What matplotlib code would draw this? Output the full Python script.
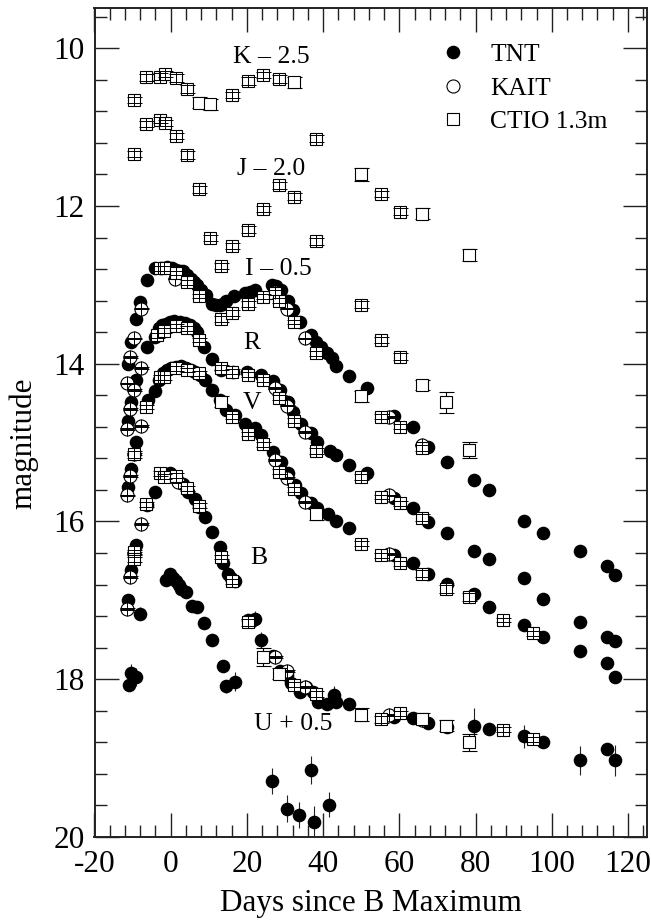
import matplotlib
matplotlib.use("Agg")
import matplotlib.pyplot as plt
from matplotlib.lines import Line2D
from matplotlib.ticker import MultipleLocator
import numpy as np

plt.rcParams['font.family'] = ['Liberation Serif', 'DejaVu Serif']
plt.rcParams['axes.unicode_minus'] = False

# ---------- TNT ----------
tnt_i_day = [-11.2,-10.3,-9.2,-8.1,-6.1,-4.1,-2.5,-1.0,0.3,1.5,2.4,3.2,4.3,5.4,6.1,6.9,8.0,9.2,10.9,11.9,12.9,13.8,14.6,16.5,19.4,20.7,22.0,26.6,27.6,28.9,30.8,32.1,33.9,36.9,38.2,39.5,40.9,42.2,43.5,46.7,51.5,58.5,63.6,67.5,72.4,79.6,83.5,92.7,97.7,107.5,114.5,116.5]
tnt_i_mag = [14.0,13.72,13.43,13.22,12.94,12.79,12.78,12.77,12.78,12.81,12.82,12.83,12.87,12.92,12.96,13.0,13.06,13.13,13.24,13.26,13.26,13.24,13.21,13.14,13.1,13.09,13.07,13.0,13.02,13.07,13.2,13.32,13.47,13.64,13.72,13.79,13.87,13.93,14.03,14.15,14.31,14.66,14.80,15.06,15.25,15.48,15.6,16.0,16.15,16.38,16.56,16.68]
tnt_r_day = [-11.2,-10.3,-9.0,-6.1,-4.1,-3.0,-2.4,-1.3,-0.3,0.9,2.4,3.7,5.0,6.0,6.9,8.7,10.9,13.3,16.4,19.9,23.8,26.9,28.6,30.8,32.1,34.3,36.9,38.4,41.7,43.5,46.7,51.5,58.5,63.6,67.5,72.4,79.6,83.5,92.7,97.7,107.5,114.5,116.5]
tnt_r_mag = [14.72,14.48,14.2,13.79,13.66,13.55,13.51,13.49,13.47,13.46,13.47,13.48,13.51,13.55,13.6,13.79,13.94,14.08,14.1,14.1,14.14,14.22,14.33,14.48,14.61,14.76,14.88,14.99,15.1,15.16,15.28,15.38,15.7,15.83,16.01,16.14,16.37,16.47,16.72,16.98,17.28,17.47,17.52]
tnt_v_day = [-11.2,-10.3,-9.0,-6.0,-4.1,-3.0,-2.0,-1.0,0.2,1.5,2.8,4.0,5.4,6.5,7.6,8.9,10.9,12.9,14.6,16.8,19.6,22.2,23.8,26.9,29.0,30.8,32.5,34.3,36.9,38.4,41.3,43.5,46.7,58.5,63.6,67.5,72.4,79.6,83.5,92.7,97.7,107.5,114.5,116.5]
tnt_v_mag = [15.56,15.33,14.99,14.46,14.35,14.2,14.12,14.08,14.06,14.04,14.03,14.05,14.08,14.1,14.14,14.21,14.33,14.46,14.59,14.65,14.76,14.82,14.9,15.12,15.24,15.39,15.54,15.64,15.77,15.83,15.9,16.0,16.08,16.43,16.53,16.67,16.79,16.92,17.09,17.31,17.47,17.64,17.79,17.97]
tnt_b_day = [-11.2,-10.3,-9.2,-6.1,-4.0,-2.0,-0.3,1.5,3.2,4.5,6.3,7.4,8.9,10.9,12.9,13.7,15.0,15.9,16.8,20.3,22.0,23.8,26.9,28.6,30.4,31.7,33.9,35.6,37.4,38.7,40.9,42.8,43.5,46.7,58.5,63.6,67.5,72.4,79.6,83.5,92.7,97.7,107.5,114.5,116.5]
tnt_b_mag = [17.0,16.62,16.3,15.79,15.62,15.41,15.39,15.43,15.52,15.62,15.71,15.81,15.94,16.13,16.32,16.53,16.66,16.72,16.76,17.25,17.24,17.5,17.71,17.9,17.95,18.05,18.16,18.1,18.16,18.29,18.31,18.2,18.29,18.31,18.48,18.49,18.55,18.6,18.59,18.63,18.72,18.8,19.03,18.88,19.03]
tnt_b_err = [0.03,0.03,0.03,0.03,0.03,0.02,0.02,0.02,0.02,0.02,0.02,0.02,0.02,0.02,0.02,0.02,0.02,0.02,0.02,0.08,0.1,0.1,0.05,0.05,0.03,0.03,0.03,0.05,0.03,0.04,0.04,0.11,0.04,0.03,0.03,0.03,0.05,0.065,0.23,0.08,0.146,0.03,0.18,0.05,0.2]
tnt_u_day = [-11.0,-10.3,-9.0,-8.1,-1.3,-0.3,0.6,1.5,2.2,2.8,3.9,5.7,6.9,8.7,10.9,13.7,14.4,16.8,26.7,30.6,33.7,36.7,37.6,41.6]
tnt_u_mag = [18.07,17.92,17.97,17.17,16.74,16.67,16.72,16.76,16.8,16.85,16.9,17.07,17.09,17.29,17.5,17.83,18.09,18.03,19.29,19.64,19.72,19.15,19.81,19.59]
tnt_u_err = [0.06,0.11,0.11,0.08,0.04,0.04,0.03,0.03,0.03,0.03,0.03,0.05,0.05,0.05,0.05,0.07,0.08,0.12,0.17,0.17,0.17,0.18,0.2,0.16]

# ---------- KAIT ----------
kait_day = [-11.6,-10.8,-9.7,-7.7,1.0,27.3,30.4,35.2,57.3,66.0,
            -11.6,-10.8,-9.7,-7.7,27.3,30.4,35.2,57.3,
            -11.6,-10.8,-9.7,-7.7,27.3,30.4,35.2,57.3,
            -11.6,-10.8,-9.7,-7.7,1.9,27.3,30.4,35.2,57.3,66.0]
kait_mag = [14.25,13.92,13.68,13.3,12.92,13.09,13.3,13.68,14.68,15.03,
            14.83,14.57,14.33,14.05,14.31,14.53,14.87,15.67,
            15.67,15.42,15.15,14.79,15.22,15.45,15.75,16.41,
            17.11,16.7,16.4,16.03,15.5,17.72,17.9,18.1,18.45,18.52]

# ---------- CTIO 1.3m ----------
ctio_k_day = [-9.6,-6.6,-2.7,-1.6,1.3,4.3,7.3,10.3,16.2,20.3,24.3,28.3,32.3,38.2,50.0,55.2,60.1,66.0,78.2]
ctio_k_mag = [10.66,10.37,10.36,10.33,10.38,10.52,10.69,10.71,10.59,10.41,10.34,10.39,10.43,11.145,11.6,11.85,12.07,12.1,12.62]
ctio_k_err = [0.04,0.04,0.04,0.04,0.05,0.05,0.07,0.07,0.04,0.05,0.04,0.05,0.07,0.04,0.08,0.04,0.04,0.07,0.08]
ctio_j_day = [-9.6,-6.6,-2.7,-1.6,1.3,4.3,7.3,10.3,13.2,16.2,20.3,24.3,28.3,32.3,38.2,50.0,55.2,60.1,66.0,72.2,78.2]
ctio_j_mag = [11.34,10.96,10.91,10.95,11.11,11.35,11.79,12.41,12.76,12.51,12.30,12.04,11.74,11.88,12.45,13.25,13.7,13.91,14.27,14.49,15.09]
ctio_j_err = [0.04,0.04,0.04,0.04,0.04,0.05,0.04,0.04,0.04,0.04,0.04,0.04,0.04,0.04,0.04,0.04,0.04,0.04,0.065,0.13,0.1]
ctio_i_day = [-2.9,-1.8,1.3,4.3,7.3,13.2,16.2,20.3,24.3,27.5,28.3,32.3,38.2,50.0,55.2,60.1,66.0]
ctio_i_mag = [12.79,12.79,12.85,12.97,13.14,13.43,13.36,13.24,13.15,13.1,13.2,13.47,13.87,14.41,14.67,14.8,15.07]
ctio_i_err = [0.03,0.03,0.03,0.03,0.03,0.04,0.04,0.04,0.03,0.03,0.03,0.03,0.03,0.07,0.03,0.03,0.04]
ctio_r_day = [-3.6,-1.8,1.3,4.3,7.3,13.2,16.2,20.3,24.3,28.3,32.3,38.2,50.0,55.2,60.1,66.0]
ctio_r_mag = [13.64,13.58,13.52,13.55,13.7,14.05,14.1,14.14,14.2,14.43,14.72,15.11,15.44,15.69,15.77,15.95]
ctio_r_err = [0.03,0.03,0.03,0.03,0.03,0.03,0.03,0.03,0.03,0.03,0.03,0.04,0.04,0.03,0.03,0.04]
ctio_v_day = [-9.6,-6.6,-2.9,-1.8,1.3,4.3,7.3,13.2,16.2,20.3,24.3,28.3,32.3,38.2,50.0,55.2,60.1,66.0,72.2,78.2,87.1,95.1]
ctio_v_mag = [15.15,14.55,14.17,14.17,14.06,14.08,14.12,14.48,14.67,14.89,15.02,15.37,15.59,15.91,16.28,16.43,16.53,16.66,16.86,16.96,17.25,17.42]
ctio_v_err = [0.04,0.03,0.03,0.03,0.03,0.03,0.03,0.07,0.03,0.03,0.03,0.03,0.03,0.07,0.03,0.03,0.03,0.05,0.05,0.05,0.03,0.03]
ctio_b_day = [-9.6,-9.6,-6.6,-2.9,-1.8,1.3,4.3,7.3,13.2,16.2,20.3,24.3,28.3,32.3,38.2,50.0,55.2,60.1,66.0,72.2,78.2,87.1,95.1]
ctio_b_mag = [16.39,16.48,15.78,15.39,15.43,15.42,15.58,15.8,16.45,16.76,17.28,17.72,17.93,18.07,18.19,18.45,18.51,18.43,18.5,18.59,18.8,18.64,18.76]
ctio_b_err = [0.03,0.03,0.03,0.03,0.03,0.03,0.03,0.03,0.03,0.03,0.04,0.11,0.07,0.03,0.04,0.08,0.05,0.03,0.07,0.07,0.11,0.03,0.03]

tnt_small_err = 0.02
kait_small_err = 0.012

x_ticks = [-20, 0, 20, 40, 60, 80, 100, 120]
y_ticks = [10, 12, 14, 16, 18, 20]

band_labels = ["K \u2013 2.5", "J \u2013 2.0", "I \u2013 0.5", "R", "V", "B", "U + 0.5"]
band_label_day = [16.4, 17.4, 19.5, 19.0, 19.0, 20.9, 21.8]
band_label_mag = [10.11, 11.53, 12.8, 13.74, 14.5, 16.46, 18.57]

fig = plt.figure(figsize=(6.51, 9.21), dpi=100)
ax = fig.add_axes([94.5/651, (921-837)/921, (647-94.5)/651, (837-8)/921])
ax.set_xlim(-20, 125)
ax.set_ylim(20, 9.49)

capsize = 5.4
elw = 0.8

def tnt(d, m, e):
    ax.errorbar(d, m, yerr=e, fmt='o', ms=9.8, mfc='black', mec='black', mew=0,
                ecolor='#222222', elinewidth=elw, capsize=capsize, capthick=elw, zorder=3)

tnt(tnt_i_day, tnt_i_mag, tnt_small_err)
tnt(tnt_r_day, tnt_r_mag, tnt_small_err)
tnt(tnt_v_day, tnt_v_mag, tnt_small_err)
tnt(tnt_b_day, tnt_b_mag, tnt_b_err)
tnt(tnt_u_day, tnt_u_mag, tnt_u_err)

ax.plot(kait_day, kait_mag, 'o', ms=9.4, mfc='white', mec='black', mew=0.8, ls='none', zorder=4)
ax.errorbar(kait_day, kait_mag, yerr=kait_small_err, fmt='none', ecolor='black',
            elinewidth=0.7, capsize=capsize, capthick=0.7, zorder=5)
ax.plot(kait_day, kait_mag, '+', ms=9.4, mec='black', mew=0.7, ls='none', zorder=5)

def ctio(d, m, e):
    d, m, e = np.array(d), np.array(m), np.array(e)
    big = e > 0.055
    if big.any():
        ax.errorbar(d[big], m[big], yerr=e[big], fmt='none', ecolor='black', elinewidth=0.8,
                    capsize=capsize, capthick=0.8, zorder=6)
    ax.plot(d, m, 's', ms=8.4, mfc='white', mec='black', mew=0.8, ls='none', zorder=7)
    if (~big).any():
        ax.errorbar(d[~big], m[~big], yerr=e[~big], fmt='none', ecolor='black', elinewidth=0.7,
                    capsize=capsize, capthick=0.7, zorder=8)
        ax.plot(d[~big], m[~big], '|', ms=8.4, mec='black', mew=0.7, ls='none', zorder=8)

ctio(ctio_k_day, ctio_k_mag, ctio_k_err)
ctio(ctio_j_day, ctio_j_mag, ctio_j_err)
ctio(ctio_i_day, ctio_i_mag, ctio_i_err)
ctio(ctio_r_day, ctio_r_mag, ctio_r_err)
ctio(ctio_v_day, ctio_v_mag, ctio_v_err)
ctio(ctio_b_day, ctio_b_mag, ctio_b_err)

for t, d, m in zip(band_labels, band_label_day, band_label_mag):
    ax.text(d, m, t, fontsize=18.5, ha='left', va='center', color='black', zorder=10)

ax.xaxis.set_minor_locator(MultipleLocator(4))
ax.yaxis.set_minor_locator(MultipleLocator(0.4))
ax.set_xticks(x_ticks)
ax.set_yticks(y_ticks)
ax.tick_params(which='major', direction='in', length=17, width=1.0, top=True, right=True,
               labelsize=22.5, color='#222222')
ax.tick_params(which='minor', direction='in', length=8.6, width=1.0, top=True, right=True, color='#222222')
ax.tick_params(axis='x', which='major', pad=9.5)
ax.tick_params(axis='y', which='major', pad=7)
for s in ax.spines.values():
    s.set_linewidth(1.4)
    s.set_color('#222222')

ax.set_xlabel("Days since B Maximum", fontsize=22.4)
ax.xaxis.set_label_coords((371-94.5)/552.5, -(903-837)/829, transform=ax.transAxes)
ax.xaxis.label.set_va('center')
ax.set_ylabel("magnitude", fontsize=22.4)
ax.yaxis.set_label_coords((24-94.5)/552.5, 1-(443-8)/829, transform=ax.transAxes)
ax.yaxis.label.set_va('center')

handles = [
    Line2D([], [], ls='none', marker='o', ms=9.8, mfc='black', mec='black', mew=0),
    Line2D([], [], ls='none', marker='o', ms=9.4, mfc='white', mec='black', mew=0.8),
    Line2D([], [], ls='none', marker='s', ms=8.4, mfc='white', mec='black', mew=0.8),
]
leg = ax.legend(handles, ["TNT", "KAIT", "CTIO 1.3m"], frameon=False, fontsize=18.4,
                loc='upper left', bbox_to_anchor=((441-94.5)/552.5, 1-(43-8)/829),
                labelspacing=0.42, handletextpad=1.03, handlelength=0.9, borderpad=0, borderaxespad=0)

fig.savefig("out.png", dpi=100)
